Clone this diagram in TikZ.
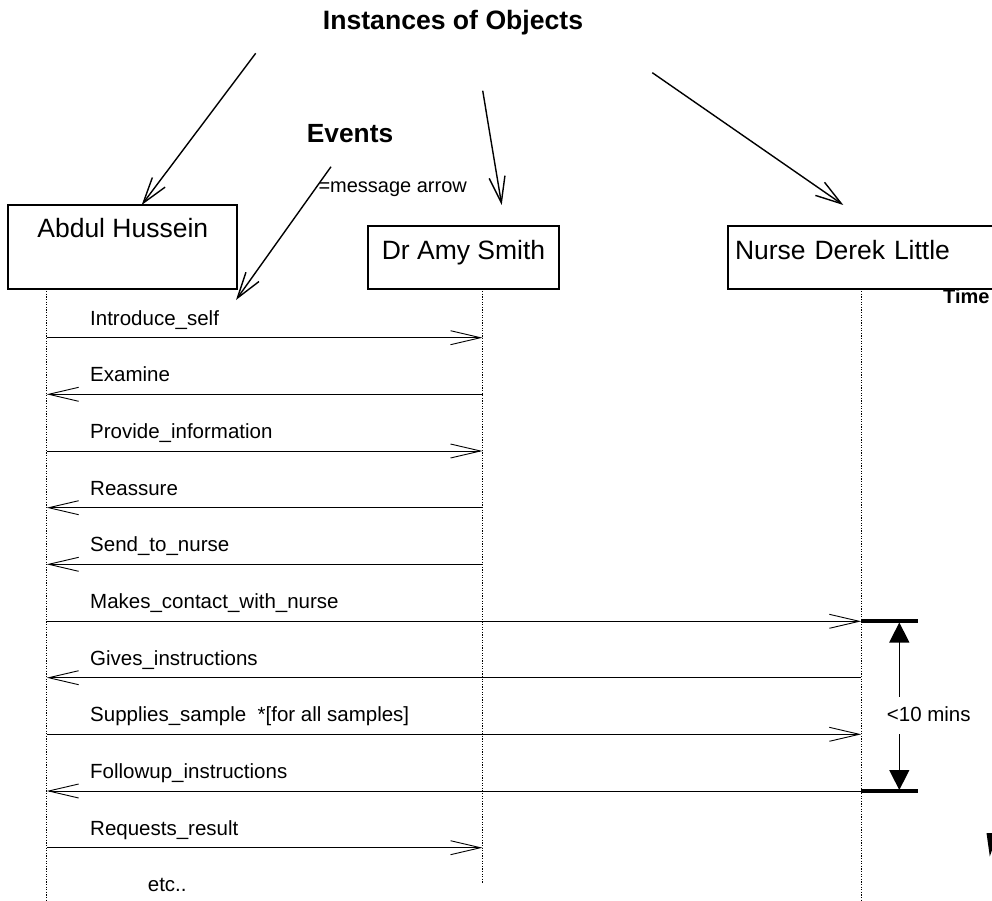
\documentclass[tikz,border=0pt]{standalone}
\usepackage{fontspec}
\setmainfont{Liberation Sans}
\usetikzlibrary{arrows.meta}
\begin{document}
\begin{tikzpicture}[x=1pt,y=-1pt,
  lbl/.style={font=\fontsize{20.5}{24}\selectfont, inner sep=0pt, anchor=base west},
  objbox/.style={draw, line width=2pt, outer sep=0pt, inner ysep=0pt,
                 font=\fontsize{26.5}{30}\selectfont, anchor=north west},
  lifeline/.style={line width=1.3pt, dash pattern=on 1.3pt off 1.3pt},
  msg/.style={line width=0.9pt, -{Straight Barb[length=30pt,width=14pt]}},
  pointer/.style={line width=1.4pt, -{Straight Barb[length=26pt,width=16pt]}},
  bar/.style={line width=4pt},
  span/.style={line width=1.3pt, -{Triangle[length=20pt,width=20pt]}}]

\useasboundingbox (0,0) rectangle (992,901);
\clip (0,0) rectangle (992,901);

% headings
\node[font=\bfseries\fontsize{26.6}{30}\selectfont, inner sep=0pt, anchor=base]
  (title) at (453,29.3) {Instances of Objects};
\node[font=\bfseries\fontsize{26.3}{30}\selectfont, inner sep=0pt, anchor=base west]
  (events) at (306.7,142.3) {Events};
\node[font=\fontsize{20}{24}\selectfont, inner sep=0pt, anchor=base west]
  (msgnote) at (318.3,192.7) {=message arrow};
\node[font=\bfseries\fontsize{20}{24}\selectfont, inner sep=0pt, anchor=base west]
  (time) at (943,303.3) {Time};

% object boxes
\node[objbox, minimum width=229pt, text height=32pt, text depth=51.5pt]
  (abdul) at (8.3,205) {Abdul Hussein};
\node[objbox, minimum width=191.6pt, text height=33.8pt, text depth=29pt]
  (amy) at (367.7,225.7) {Dr Amy Smith};
\node[objbox, inner xsep=7.3pt, text width=300pt, align=left,
      text height=33.8pt, text depth=29pt]
  (nurse) at (727.7,225.7) {Nurse Derek Little};

% lifeline positions
\coordinate (xA) at (46.7,0);
\coordinate (xB) at (482.5,0);
\coordinate (xC) at (861.3,0);
\coordinate (endA) at (46.7,901);
\coordinate (endB) at (482.5,883);
\coordinate (endC) at (861.3,901);

\draw[lifeline] (abdul.south -| xA) -- (endA);
\draw[lifeline] (amy.south -| xB) -- (endB);
\draw[lifeline] (nurse.south -| xC) -- (endC);

% pointers from the headings
\coordinate (p1s) at (255.7,53.3);  \coordinate (p1e) at (141.7,205);
\coordinate (p2s) at (482.7,90.7);  \coordinate (p2e) at (501.7,205);
\coordinate (p3s) at (652.3,72.7);  \coordinate (p3e) at (843.3,205);
\coordinate (p4s) at (331,166.7);   \coordinate (p4e) at (236,300);
\draw[pointer] (p1s) -- (p1e);
\draw[pointer] (p2s) -- (p2e);
\draw[pointer] (p3s) -- (p3e);
\draw[pointer] (p4s) -- (p4e);

% message rows
\foreach \i/\y in {1/337.7, 2/394.3, 3/451.0, 4/507.7, 5/564.3,
                   6/621.3, 7/677.7, 8/734.3, 9/791.0, 10/847.7}
  \coordinate (r\i) at (0,\y);

\draw[msg] (xA |- r1) -- (xB |- r1);
\draw[msg] (xB |- r2) -- (xA |- r2);
\draw[msg] (xA |- r3) -- (xB |- r3);
\draw[msg] (xB |- r4) -- (xA |- r4);
\draw[msg] (xB |- r5) -- (xA |- r5);
\draw[msg] (xA |- r6) -- (xC |- r6);
\draw[msg] (xC |- r7) -- (xA |- r7);
\draw[msg] (xA |- r8) -- (xC |- r8);
\draw[msg] (xC |- r9) -- (xA |- r9);
\draw[msg] (xA |- r10) -- (xB |- r10);

\node[lbl] (l1) at (90,325.0) {Introduce\_self};
\node[lbl] (l2) at (90,381.6) {Examine};
\node[lbl] (l3) at (90,438.3) {Provide\_information};
\node[lbl] (l4) at (90,495.0) {Reassure};
\node[lbl] (l5) at (90,551.6) {Send\_to\_nurse};
\node[lbl] (l6) at (90,608.3) {Makes\_contact\_with\_nurse};
\node[lbl] (l7) at (90,665.0) {Gives\_instructions};
\node[lbl] (l8) at (90,721.6) {Supplies\_sample\ \ *[for all samples]};
\node[lbl] (l9) at (90,778.3) {Followup\_instructions};
\node[lbl] (l10) at (90,835.0) {Requests\_result};
\node[lbl] (etc) at (147.7,891.7) {etc..};

% time constraint
\coordinate (barTopR) at (917.7,0);
\draw[bar] (xC |- r6) -- (barTopR |- r6);
\draw[bar] (xC |- r9) -- (barTopR |- r9);
\node[lbl] (limit) at (886.7,721) {<10 mins};
\coordinate (upS) at (899.3,696.7); \coordinate (upE) at (899.3,622.5);
\coordinate (dnS) at (899.3,734);   \coordinate (dnE) at (899.3,790);
\draw[span] (upS) -- (upE);
\draw[span] (dnS) -- (dnE);

% edge of the large time arrow
\fill (986.5,833) -- (992,833) -- (992,850) -- (989.8,856.5) -- cycle;

\end{tikzpicture}
\end{document}
